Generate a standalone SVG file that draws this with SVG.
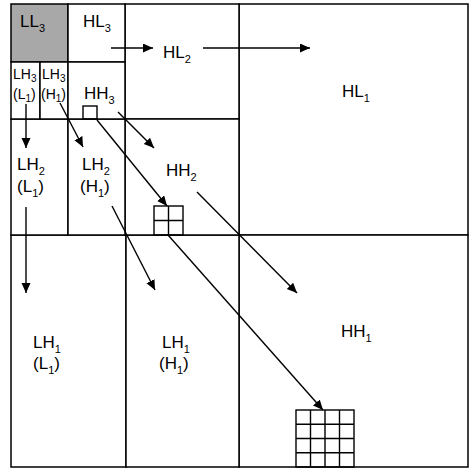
<svg xmlns="http://www.w3.org/2000/svg" width="471" height="468" viewBox="0 0 471 468">
<style>
.b{fill:#fff;stroke:#000;stroke-width:1.5}
.g{fill:#a8a8a8;stroke:#000;stroke-width:1.5}
.c{fill:none;stroke:#000;stroke-width:1.4}
.a{fill:none;stroke:#000;stroke-width:1.4;marker-end:url(#ah)}
text{font-family:"Liberation Sans",Arial,sans-serif;font-size:17px;fill:#000}
.s{font-size:14px}
.sub{font-size:11px}
.ss{font-size:10px}
</style>
<defs>
<marker id="ah" markerUnits="userSpaceOnUse" markerWidth="11" markerHeight="10" refX="10" refY="4.5" orient="auto">
<path d="M0,0 L10,4.5 L0,9 z" fill="#000"/>
</marker>
</defs>
<rect x="0" y="0" width="471" height="468" fill="#fff"/>
<g id="HL1"><rect class="b" x="239" y="4" width="229" height="231"/><text x="342" y="97">HL<tspan class="sub" dy="5">1</tspan></text></g>
<g id="HH1"><rect class="b" x="239" y="235" width="229" height="232"/><text x="341" y="337">HH<tspan class="sub" dy="5">1</tspan></text></g>
<g id="LH1_L1"><rect class="b" x="11" y="235" width="115" height="232"/><text x="33" y="348">LH<tspan class="sub" dy="5">1</tspan></text><text x="33" y="369">(L<tspan class="sub" dy="5">1</tspan><tspan dy="-5">)</tspan></text></g>
<g id="LH1_H1"><rect class="b" x="126" y="235" width="113" height="232"/><text x="162" y="348">LH<tspan class="sub" dy="5">1</tspan></text><text x="159" y="369">(H<tspan class="sub" dy="5">1</tspan><tspan dy="-5">)</tspan></text></g>
<g id="HL2"><rect class="b" x="125" y="4" width="114" height="115"/><text x="163" y="58">HL<tspan class="sub" dy="5">2</tspan></text></g>
<g id="HH2"><rect class="b" x="125" y="119" width="114" height="116"/><text x="166" y="176">HH<tspan class="sub" dy="5">2</tspan></text></g>
<g id="LH2_L1"><rect class="b" x="11" y="119" width="57" height="116"/><text x="17" y="170">LH<tspan class="sub" dy="5">2</tspan></text><text x="17" y="192">(L<tspan class="sub" dy="5">1</tspan><tspan dy="-5">)</tspan></text></g>
<g id="LH2_H1"><rect class="b" x="68" y="119" width="57" height="116"/><text x="82" y="170">LH<tspan class="sub" dy="5">2</tspan></text><text x="80" y="192">(H<tspan class="sub" dy="5">1</tspan><tspan dy="-5">)</tspan></text></g>
<g id="LL3"><rect class="g" x="11" y="4" width="57" height="58"/><text x="20" y="27">LL<tspan class="sub" dy="5">3</tspan></text></g>
<g id="HL3"><rect class="b" x="68" y="4" width="57" height="58"/><text x="83" y="27">HL<tspan class="sub" dy="5">3</tspan></text></g>
<g id="LH3_L1"><rect class="b" x="11" y="62" width="29" height="57"/><text class="s" x="13" y="79">LH<tspan class="ss" dy="3">3</tspan></text><text class="s" x="13" y="99">(L<tspan class="ss" dy="3">1</tspan><tspan dy="-3">)</tspan></text></g>
<g id="LH3_H1"><rect class="b" x="40" y="62" width="28" height="57"/><text class="s" x="42" y="79">LH<tspan class="ss" dy="3">3</tspan></text><text class="s" x="41" y="99">(H<tspan class="ss" dy="3">1</tspan><tspan dy="-3">)</tspan></text></g>
<g id="HH3"><rect class="b" x="68" y="62" width="57" height="57"/><text x="84" y="99">HH<tspan class="sub" dy="5">3</tspan></text></g>
<g id="coef3"><rect class="c" x="83" y="106" width="14" height="13"/></g>
<g id="coef2"><rect class="c" x="154" y="206" width="29" height="29"/><path class="c" d="M168.5,206V235M154,220.5H183"/></g>
<g id="coef1"><rect class="c" x="296" y="410" width="58" height="57"/><path class="c" d="M310.5,410V467M325,410V467M339.5,410V467M296,424.25H354M296,438.5H354M296,452.75H354"/></g>
<g id="connectors">
<line class="a" x1="111" y1="48" x2="153" y2="48"/>
<line class="a" x1="203" y1="48" x2="310" y2="48"/>
<line class="a" x1="26" y1="104" x2="26" y2="148"/>
<line class="a" x1="26" y1="207" x2="26" y2="293"/>
<line class="a" x1="60" y1="103" x2="83" y2="147"/>
<line class="a" x1="112" y1="206" x2="155" y2="290"/>
<line class="a" x1="118" y1="112" x2="154" y2="148"/>
<line class="a" x1="197" y1="192" x2="297" y2="293"/>
<line class="a" x1="97" y1="120" x2="167" y2="206"/>
<line class="a" x1="168" y1="235" x2="323" y2="410"/>
</g>
</svg>
